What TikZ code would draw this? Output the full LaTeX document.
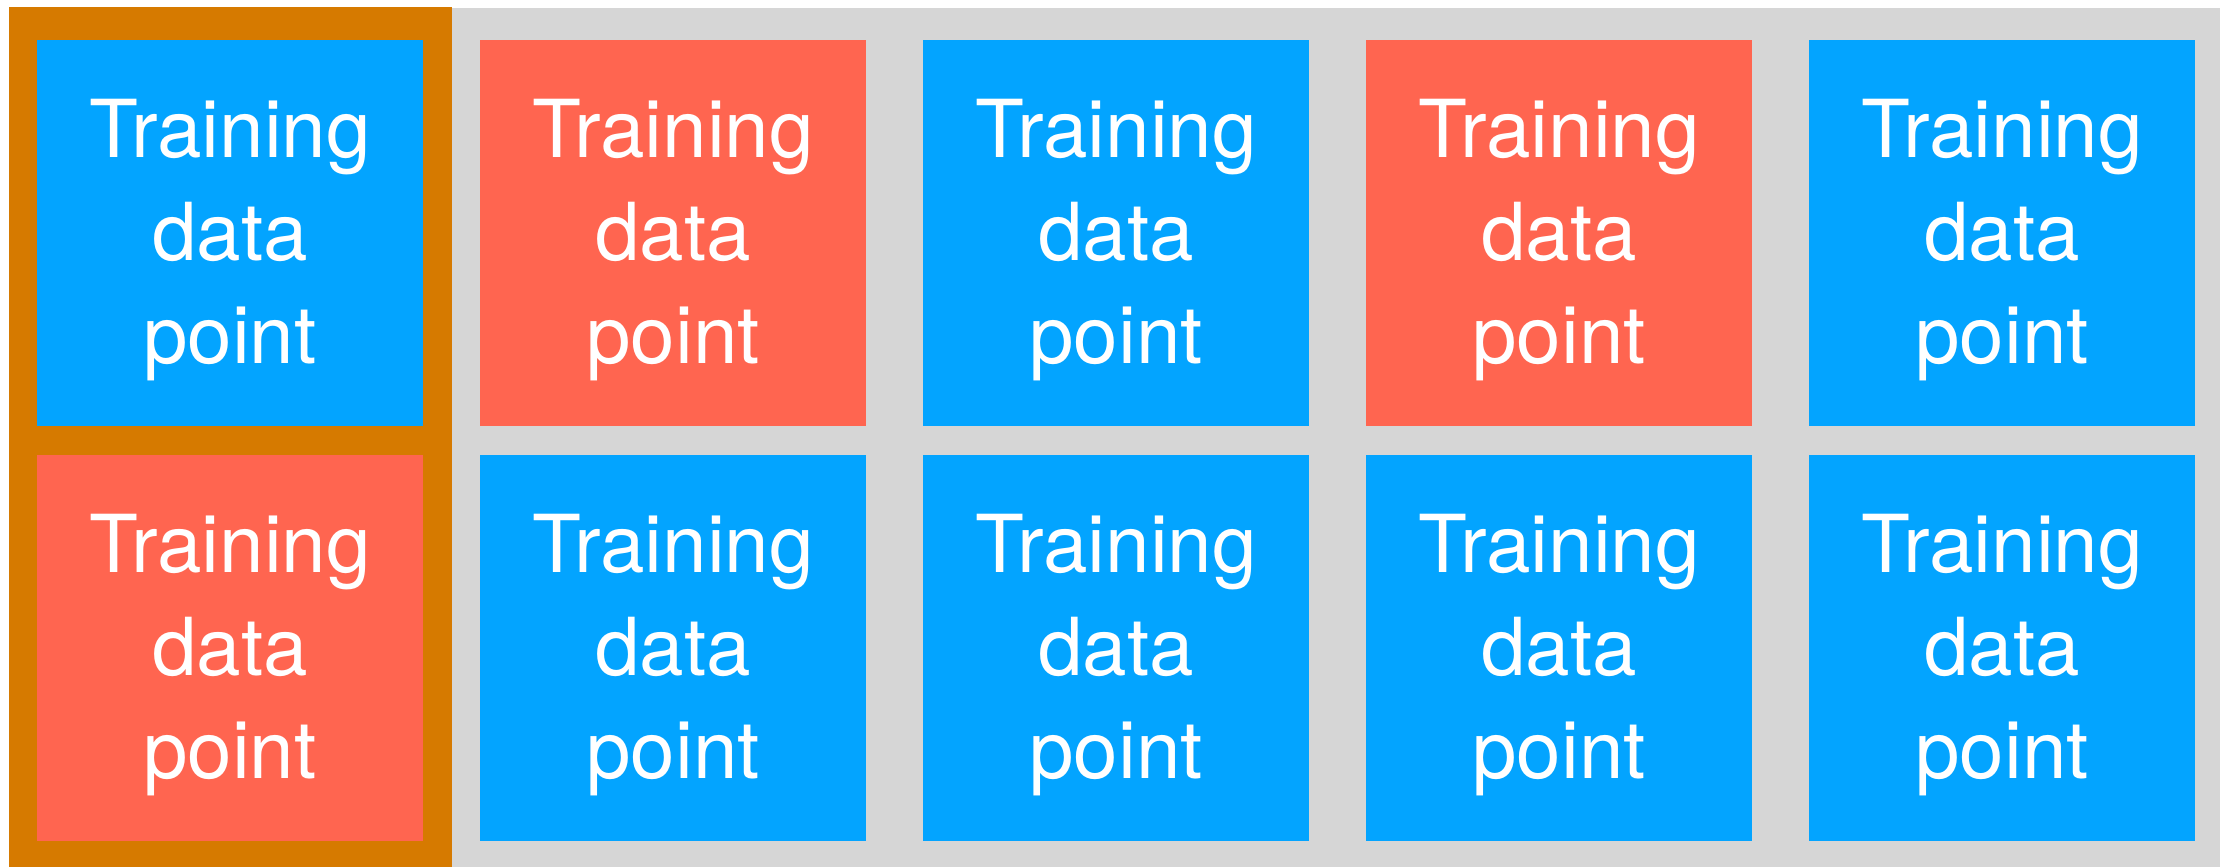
\documentclass[tikz,border=0pt]{standalone}
\usepackage{fontspec}
\setmainfont{TeX Gyre Heros}
\definecolor{cellblue}{RGB}{3,164,255}
\definecolor{cellred}{RGB}{255,101,80}
\definecolor{foldorange}{RGB}{214,122,0}
\definecolor{panelgray}{RGB}{214,214,214}
\tikzset{
  celltext/.style={inner sep=0pt, text=white, align=center,
    font=\fontsize{80}{103}\selectfont, yshift=-7pt},
  cell/.style={minimum width=386pt, minimum height=386pt, inner sep=0pt,
    label={[celltext]center:{Training\\data\\point}}},
  bluecell/.style={cell, fill=cellblue},
  redcell/.style={cell, fill=cellred}
}
\begin{document}
\begin{tikzpicture}[x=1pt,y=-1pt]
  \useasboundingbox (0,0) rectangle (2220,867);
  % background panel and highlighted fold
  \fill[panelgray] (9,8) rectangle (2220,867);
  \fill[foldorange] (9,7) rectangle (452,867);
  % top row
  \node[bluecell] (p11) at (230,233) {};
  \node[redcell]  (p12) at (673,233) {};
  \node[bluecell] (p13) at (1116,233) {};
  \node[redcell]  (p14) at (1559,233) {};
  \node[bluecell] (p15) at (2002,233) {};
  % bottom row
  \node[redcell]  (p21) at (230,648) {};
  \node[bluecell] (p22) at (673,648) {};
  \node[bluecell] (p23) at (1116,648) {};
  \node[bluecell] (p24) at (1559,648) {};
  \node[bluecell] (p25) at (2002,648) {};
\end{tikzpicture}
\end{document}
